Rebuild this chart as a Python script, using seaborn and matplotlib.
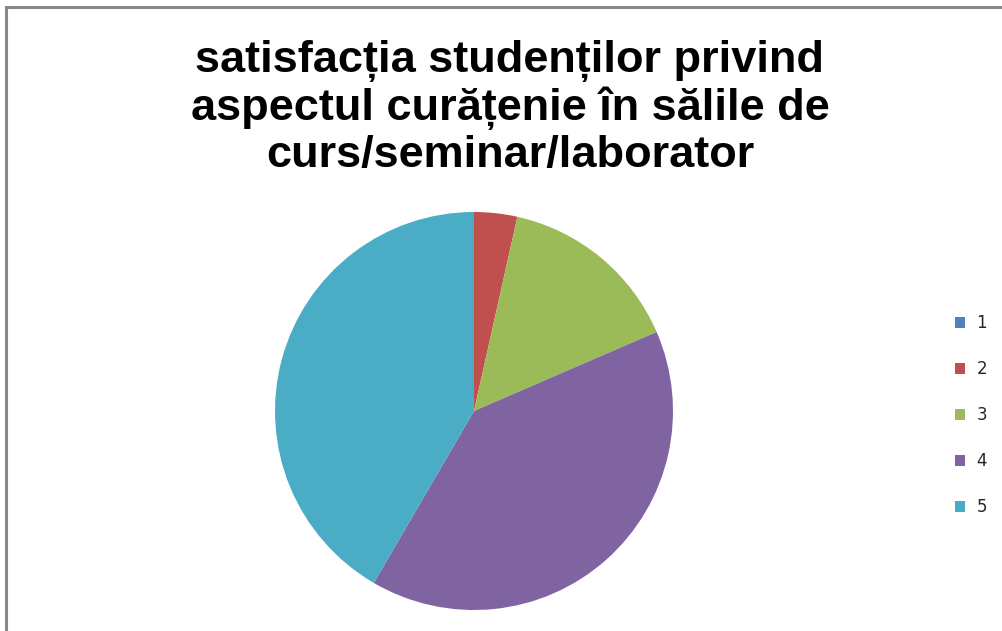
import matplotlib
matplotlib.use("Agg")
import matplotlib.pyplot as plt
import seaborn as sns
from matplotlib.patches import Rectangle

categories = ["1", "2", "3", "4", "5"]
values = [0.0, 3.5, 15.0, 39.9, 41.6]
colors = ["#4F81BD", "#C0504D", "#9BBB59", "#8064A2", "#4BACC6"]
title = "satisfacția studenților privind\naspectul curățenie în sălile de\ncurs/seminar/laborator"

sns.set_theme(style="white")
plt.rcParams['font.family'] = ['Liberation Sans', 'DejaVu Sans']

W, H = 1003, 631
fig = plt.figure(figsize=(W / 100, H / 100), dpi=100)
fig.patch.set_facecolor("white")

# pie axes: center (474, 411), radius 199 px
cx, cy, r = 474, 411, 199
ax = fig.add_axes([(cx - r) / W, (H - cy - r) / H, 2 * r / W, 2 * r / H])
palette = sns.color_palette(colors)
wedges, _ = ax.pie(values, colors=palette, startangle=90, counterclock=False,
                   radius=1.0, wedgeprops=dict(linewidth=0))
ax.set_xlim(-1, 1)
ax.set_ylim(-1, 1)
ax.set_aspect("equal")
ax.axis("off")

fig.text(510 / W, 1 - 108 / H, title, ha="center", va="center",
         fontsize=32.5, fontweight="bold", color="black", linespacing=1.13,
         family=['Liberation Sans', 'DejaVu Sans'])

leg = fig.legend(wedges, categories, loc="center left",
                 bbox_to_anchor=(955 / W, 1 - 415 / H), frameon=False,
                 prop=dict(family=['DejaVu Sans'], size=12),
                 handlelength=0.62, handleheight=0.62,
                 handletextpad=0.66, labelspacing=1.68, borderpad=0,
                 borderaxespad=0)

# chart border (only top/left visible in the crop)
fig.patches.append(Rectangle((6 / W, -0.1), 1.2, 1 - 7 / H + 0.1,
                             transform=fig.transFigure, fill=False,
                             edgecolor="#888888", linewidth=2.2))

fig.savefig("out.png", dpi=100)
